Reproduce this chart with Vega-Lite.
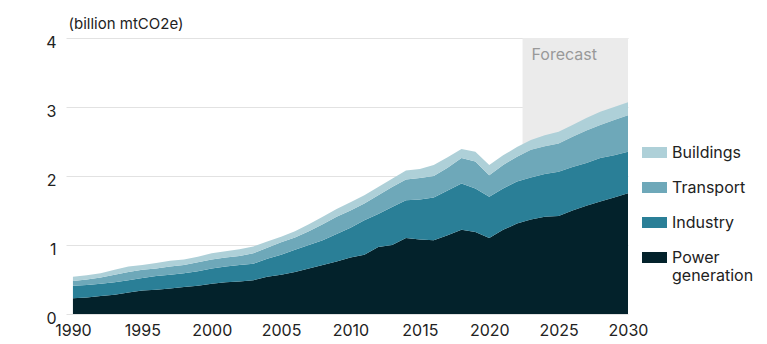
{
  "$schema": "https://vega.github.io/schema/vega-lite/v6.json",
  "width": 562,
  "height": 276,
  "autosize": {"type": "none"},
  "padding": {"left": 66, "top": 38, "right": 139, "bottom": 30},
  "background": "white",
  "config": {
    "font": "Inter",
    "view": {"stroke": null},
    "axis": {"labelFont": "Inter", "titleFont": "Inter", "labelColor": "#222222", "titleColor": "#222222"},
    "legend": {"labelFont": "Inter"}
  },
  "layer": [
    {
      "data": {"values": [{"start": 2022.4, "end": 2030, "label": "Forecast"}]},
      "mark": {"type": "rect", "fill": "#ebebeb"},
      "encoding": {
        "x": {"field": "start", "type": "quantitative", "scale": {"domain": [1989.5, 2030], "nice": false, "zero": false}},
        "x2": {"field": "end"}
      }
    },
    {
      "data": {"values": [
        {"year":1990,"sector":"Power generation","value":0.23},{"year":1991,"sector":"Power generation","value":0.24},{"year":1992,"sector":"Power generation","value":0.26},{"year":1993,"sector":"Power generation","value":0.28},{"year":1994,"sector":"Power generation","value":0.31},{"year":1995,"sector":"Power generation","value":0.34},{"year":1996,"sector":"Power generation","value":0.35},{"year":1997,"sector":"Power generation","value":0.37},{"year":1998,"sector":"Power generation","value":0.39},{"year":1999,"sector":"Power generation","value":0.41},
        {"year":2000,"sector":"Power generation","value":0.44},{"year":2001,"sector":"Power generation","value":0.46},{"year":2002,"sector":"Power generation","value":0.47},{"year":2003,"sector":"Power generation","value":0.49},{"year":2004,"sector":"Power generation","value":0.54},{"year":2005,"sector":"Power generation","value":0.57},{"year":2006,"sector":"Power generation","value":0.61},{"year":2007,"sector":"Power generation","value":0.66},{"year":2008,"sector":"Power generation","value":0.71},{"year":2009,"sector":"Power generation","value":0.76},
        {"year":2010,"sector":"Power generation","value":0.82},{"year":2011,"sector":"Power generation","value":0.86},{"year":2012,"sector":"Power generation","value":0.97},{"year":2013,"sector":"Power generation","value":1.00},{"year":2014,"sector":"Power generation","value":1.10},{"year":2015,"sector":"Power generation","value":1.08},{"year":2016,"sector":"Power generation","value":1.07},{"year":2017,"sector":"Power generation","value":1.14},{"year":2018,"sector":"Power generation","value":1.22},{"year":2019,"sector":"Power generation","value":1.19},
        {"year":2020,"sector":"Power generation","value":1.10},{"year":2021,"sector":"Power generation","value":1.22},{"year":2022,"sector":"Power generation","value":1.31},{"year":2023,"sector":"Power generation","value":1.37},{"year":2024,"sector":"Power generation","value":1.41},{"year":2025,"sector":"Power generation","value":1.42},{"year":2026,"sector":"Power generation","value":1.50},{"year":2027,"sector":"Power generation","value":1.57},{"year":2028,"sector":"Power generation","value":1.63},{"year":2029,"sector":"Power generation","value":1.69},{"year":2030,"sector":"Power generation","value":1.75},

        {"year":1990,"sector":"Industry","value":0.18},{"year":1991,"sector":"Industry","value":0.18},{"year":1992,"sector":"Industry","value":0.18},{"year":1993,"sector":"Industry","value":0.18},{"year":1994,"sector":"Industry","value":0.18},{"year":1995,"sector":"Industry","value":0.18},{"year":1996,"sector":"Industry","value":0.20},{"year":1997,"sector":"Industry","value":0.20},{"year":1998,"sector":"Industry","value":0.20},{"year":1999,"sector":"Industry","value":0.21},
        {"year":2000,"sector":"Industry","value":0.22},{"year":2001,"sector":"Industry","value":0.23},{"year":2002,"sector":"Industry","value":0.24},{"year":2003,"sector":"Industry","value":0.24},{"year":2004,"sector":"Industry","value":0.26},{"year":2005,"sector":"Industry","value":0.29},{"year":2006,"sector":"Industry","value":0.32},{"year":2007,"sector":"Industry","value":0.34},{"year":2008,"sector":"Industry","value":0.36},{"year":2009,"sector":"Industry","value":0.40},
        {"year":2010,"sector":"Industry","value":0.43},{"year":2011,"sector":"Industry","value":0.50},{"year":2012,"sector":"Industry","value":0.48},{"year":2013,"sector":"Industry","value":0.55},{"year":2014,"sector":"Industry","value":0.55},{"year":2015,"sector":"Industry","value":0.58},{"year":2016,"sector":"Industry","value":0.62},{"year":2017,"sector":"Industry","value":0.65},{"year":2018,"sector":"Industry","value":0.67},{"year":2019,"sector":"Industry","value":0.63},
        {"year":2020,"sector":"Industry","value":0.60},{"year":2021,"sector":"Industry","value":0.60},{"year":2022,"sector":"Industry","value":0.61},{"year":2023,"sector":"Industry","value":0.61},{"year":2024,"sector":"Industry","value":0.62},{"year":2025,"sector":"Industry","value":0.64},{"year":2026,"sector":"Industry","value":0.63},{"year":2027,"sector":"Industry","value":0.62},{"year":2028,"sector":"Industry","value":0.63},{"year":2029,"sector":"Industry","value":0.61},{"year":2030,"sector":"Industry","value":0.60},

        {"year":1990,"sector":"Transport","value":0.07},{"year":1991,"sector":"Transport","value":0.08},{"year":1992,"sector":"Transport","value":0.09},{"year":1993,"sector":"Transport","value":0.11},{"year":1994,"sector":"Transport","value":0.12},{"year":1995,"sector":"Transport","value":0.12},{"year":1996,"sector":"Transport","value":0.11},{"year":1997,"sector":"Transport","value":0.12},{"year":1998,"sector":"Transport","value":0.12},{"year":1999,"sector":"Transport","value":0.13},
        {"year":2000,"sector":"Transport","value":0.13},{"year":2001,"sector":"Transport","value":0.13},{"year":2002,"sector":"Transport","value":0.13},{"year":2003,"sector":"Transport","value":0.15},{"year":2004,"sector":"Transport","value":0.16},{"year":2005,"sector":"Transport","value":0.18},{"year":2006,"sector":"Transport","value":0.18},{"year":2007,"sector":"Transport","value":0.20},{"year":2008,"sector":"Transport","value":0.23},{"year":2009,"sector":"Transport","value":0.25},
        {"year":2010,"sector":"Transport","value":0.25},{"year":2011,"sector":"Transport","value":0.24},{"year":2012,"sector":"Transport","value":0.27},{"year":2013,"sector":"Transport","value":0.29},{"year":2014,"sector":"Transport","value":0.30},{"year":2015,"sector":"Transport","value":0.31},{"year":2016,"sector":"Transport","value":0.31},{"year":2017,"sector":"Transport","value":0.33},{"year":2018,"sector":"Transport","value":0.37},{"year":2019,"sector":"Transport","value":0.39},
        {"year":2020,"sector":"Transport","value":0.31},{"year":2021,"sector":"Transport","value":0.34},{"year":2022,"sector":"Transport","value":0.36},{"year":2023,"sector":"Transport","value":0.40},{"year":2024,"sector":"Transport","value":0.40},{"year":2025,"sector":"Transport","value":0.41},{"year":2026,"sector":"Transport","value":0.44},{"year":2027,"sector":"Transport","value":0.47},{"year":2028,"sector":"Transport","value":0.48},{"year":2029,"sector":"Transport","value":0.51},{"year":2030,"sector":"Transport","value":0.53},

        {"year":1990,"sector":"Buildings","value":0.06},{"year":1991,"sector":"Buildings","value":0.06},{"year":1992,"sector":"Buildings","value":0.06},{"year":1993,"sector":"Buildings","value":0.07},{"year":1994,"sector":"Buildings","value":0.08},{"year":1995,"sector":"Buildings","value":0.07},{"year":1996,"sector":"Buildings","value":0.08},{"year":1997,"sector":"Buildings","value":0.08},{"year":1998,"sector":"Buildings","value":0.08},{"year":1999,"sector":"Buildings","value":0.08},
        {"year":2000,"sector":"Buildings","value":0.09},{"year":2001,"sector":"Buildings","value":0.09},{"year":2002,"sector":"Buildings","value":0.10},{"year":2003,"sector":"Buildings","value":0.10},{"year":2004,"sector":"Buildings","value":0.09},{"year":2005,"sector":"Buildings","value":0.08},{"year":2006,"sector":"Buildings","value":0.09},{"year":2007,"sector":"Buildings","value":0.10},{"year":2008,"sector":"Buildings","value":0.11},{"year":2009,"sector":"Buildings","value":0.11},
        {"year":2010,"sector":"Buildings","value":0.12},{"year":2011,"sector":"Buildings","value":0.12},{"year":2012,"sector":"Buildings","value":0.12},{"year":2013,"sector":"Buildings","value":0.12},{"year":2014,"sector":"Buildings","value":0.13},{"year":2015,"sector":"Buildings","value":0.13},{"year":2016,"sector":"Buildings","value":0.16},{"year":2017,"sector":"Buildings","value":0.15},{"year":2018,"sector":"Buildings","value":0.13},{"year":2019,"sector":"Buildings","value":0.14},
        {"year":2020,"sector":"Buildings","value":0.15},{"year":2021,"sector":"Buildings","value":0.14},{"year":2022,"sector":"Buildings","value":0.14},{"year":2023,"sector":"Buildings","value":0.14},{"year":2024,"sector":"Buildings","value":0.16},{"year":2025,"sector":"Buildings","value":0.17},{"year":2026,"sector":"Buildings","value":0.17},{"year":2027,"sector":"Buildings","value":0.18},{"year":2028,"sector":"Buildings","value":0.19},{"year":2029,"sector":"Buildings","value":0.19},{"year":2030,"sector":"Buildings","value":0.19}
      ]},
      "transform": [
        {"calculate": "indexof(['Power generation', 'Industry', 'Transport', 'Buildings'], datum.sector)", "as": "stackRank"}
      ],
      "mark": {"type": "area", "opacity": 1},
      "encoding": {
        "x": {
          "field": "year", "type": "quantitative",
          "scale": {"domain": [1989.5, 2030], "nice": false, "zero": false},
          "axis": {"values": [1990, 1995, 2000, 2005, 2010, 2015, 2020, 2025, 2030], "format": "d", "title": null, "grid": false, "domain": false, "ticks": false, "labelFontSize": 16, "labelPadding": 8, "labelFlush": false, "labelOverlap": false}
        },
        "y": {
          "field": "value", "type": "quantitative", "stack": "zero",
          "scale": {"domain": [0, 4], "nice": false},
          "axis": {"values": [0, 1, 2, 3, 4], "format": "d", "title": "(billion mtCO2e)", "titleAngle": 0, "titleAlign": "left", "titleBaseline": "alphabetic", "titleX": 2, "titleY": -10, "titleFontSize": 15, "titleFontWeight": "normal", "grid": true, "gridColor": "#e2e2e2", "domain": false, "ticks": false, "labelFontSize": 16, "labelPadding": 10, "labelOffset": 4}
        },
        "color": {
          "field": "sector", "type": "nominal",
          "scale": {"domain": ["Buildings", "Transport", "Industry", "Power generation"], "range": ["#aed0d8", "#6ea8b9", "#2a7f97", "#03222b"]},
          "legend": {"title": null, "orient": "none", "legendX": 576, "legendY": 102, "direction": "vertical", "symbolType": "M-1,-0.44H1V0.44H-1Z", "symbolSize": 625, "symbolStrokeWidth": 0, "symbolOpacity": 1, "labelFontSize": 16, "labelColor": "#222222", "labelOffset": 5, "rowPadding": 14, "labelExpr": "datum.label == 'Power generation' ? ['Power', 'generation'] : datum.label"}
        },
        "order": {"field": "stackRank", "type": "quantitative", "sort": "ascending"}
      }
    },
    {
      "data": {"values": [{"start": 2022.4, "end": 2030, "label": "Forecast"}]},
      "mark": {"type": "text", "align": "left", "baseline": "middle", "dx": 9, "fontSize": 16, "color": "#999999", "font": "Inter"},
      "encoding": {
        "x": {"field": "start", "type": "quantitative", "scale": {"domain": [1989.5, 2030], "nice": false, "zero": false}},
        "y": {"datum": 3.75},
        "text": {"field": "label"}
      }
    }
  ]
}
